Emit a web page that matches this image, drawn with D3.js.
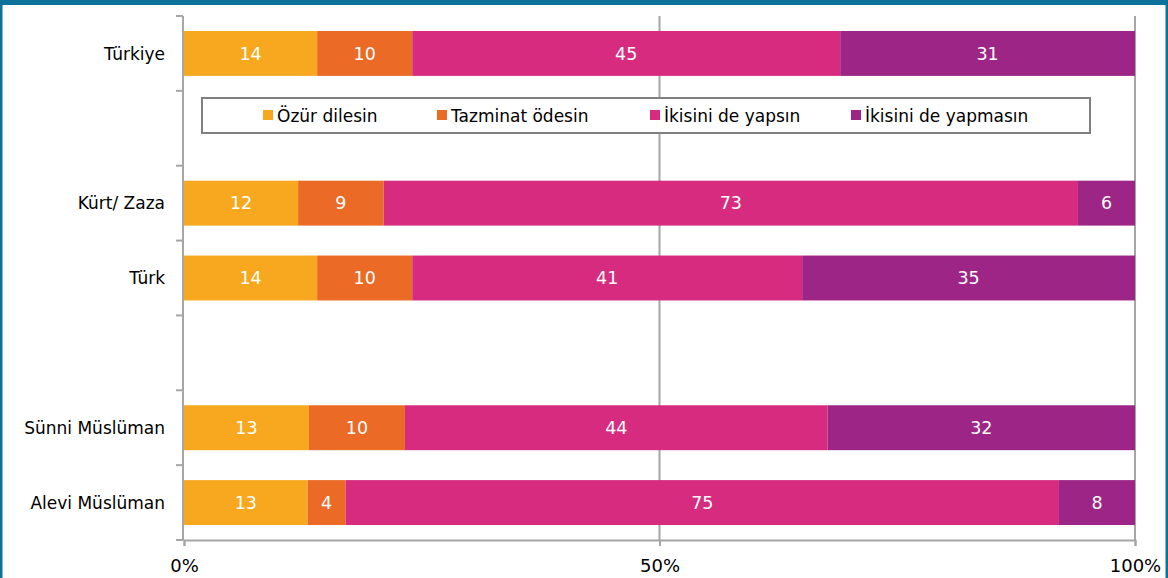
<!DOCTYPE html>
<html>
<head>
<meta charset="utf-8">
<title>Özür / Tazminat</title>
<style>
  body { margin: 0; background: #fff; }
  svg text { font-family: "DejaVu Sans", Verdana, sans-serif; }
</style>
</head>
<body>
<div id="container"></div>
<script src="https://cdn.jsdelivr.net/npm/d3@7/dist/d3.min.js"></script>
<script>
// rows of the chart, blanks keep the gaps between groups
const categories = ["Türkiye", "", "Kürt/ Zaza", "Türk", " ", "  ", "Sünni Müslüman", "Alevi Müslüman"];
const seriesNames = ["Özür dilesin", "Tazminat ödesin", "İkisini de yapsın", "İkisini de yapmasın"];
const colors = ["#f7a81f", "#eb6a26", "#d62b7e", "#9c2585"];
const ozur      = [14, null, 12, 14, null, null, 13, 13];
const tazminat  = [10, null, 9, 10, null, null, 10, 4];
const ikisiDe   = [45, null, 73, 41, null, null, 44, 75];
const hicbiri   = [31, null, 6, 35, null, null, 32, 8];
const xTicks = [0, 0.5, 1];

const W = 1168, H = 578;
const margin = {top: 16, left: 184, right: 33, bottom: 38};

const svg = d3.select("#container").append("svg")
  .attr("width", W).attr("height", H);

// frame
svg.append("rect").attr("x", 1).attr("y", 0).attr("width", W - 2).attr("height", H + 4)
  .attr("fill", "none").attr("stroke", "#0b7399").attr("stroke-width", 3);
svg.append("rect").attr("x", 0).attr("y", 0).attr("width", W).attr("height", 5).attr("fill", "#0b7399");

const rows = categories.map((c, i) => ({
  key: c,
  vals: [ozur[i], tazminat[i], ikisiDe[i], hicbiri[i]]
})).filter((r, i) => ozur[i] !== null);

// bands: 7 rows across the plot (one legend row + two empty)
const y = d3.scaleBand()
  .domain(categories.filter(c => c !== "  "))
  .range([margin.top, H - margin.bottom])
  .paddingInner(0.4).paddingOuter(0.2);
const x = d3.scaleLinear().domain([0, 1]).range([margin.left, W - margin.right]);

// gridlines
svg.append("g").selectAll("line").data(xTicks.slice(1))
  .join("line")
  .attr("x1", d => x(d)).attr("x2", d => x(d))
  .attr("y1", margin.top).attr("y2", H - margin.bottom)
  .attr("stroke", "#a6a6a6").attr("stroke-width", 2);

// stacked bars
const stackRows = rows.map(r => {
  const o = {key: r.key};
  seriesNames.forEach((s, j) => o[s] = r.vals[j]);
  return o;
});
const stacked = d3.stack().keys(seriesNames).offset(d3.stackOffsetExpand)(stackRows);

const layers = svg.append("g").selectAll("g").data(stacked)
  .join("g").attr("fill", (d, i) => colors[i]);
layers.selectAll("rect").data(d => d)
  .join("rect")
  .attr("x", d => x(d[0]))
  .attr("width", d => x(d[1]) - x(d[0]))
  .attr("y", d => y(d.data.key))
  .attr("height", y.bandwidth());

const labels = svg.append("g").attr("fill", "#fff").attr("font-size", 17.5)
  .attr("text-anchor", "middle");
stacked.forEach(layer => {
  labels.selectAll(null).data(layer).join("text")
    .attr("x", d => (x(d[0]) + x(d[1])) / 2)
    .attr("y", d => y(d.data.key) + y.bandwidth() / 2)
    .attr("dy", "0.36em")
    .text(d => d.data[layer.key]);
});

// y axis with ticks between rows
const yAxisG = svg.append("g").attr("transform", `translate(${margin.left - 1},0)`);
yAxisG.append("line").attr("y1", margin.top).attr("y2", H - margin.bottom)
  .attr("stroke", "#a6a6a6").attr("stroke-width", 2);
const step = (H - margin.bottom - margin.top) / 7;
yAxisG.selectAll(".tk").data(d3.range(8)).join("line")
  .attr("x1", -7).attr("x2", 0)
  .attr("y1", i => margin.top + i * step).attr("y2", i => margin.top + i * step)
  .attr("stroke", "#a6a6a6").attr("stroke-width", 2);
yAxisG.selectAll("text").data(rows).join("text")
  .attr("x", -18).attr("y", d => y(d.key) + y.bandwidth() / 2)
  .attr("dy", "0.36em").attr("text-anchor", "end")
  .attr("font-size", 17).attr("fill", "#000")
  .text(d => d.key);

// x axis
const xAxis = svg.append("g")
  .attr("transform", `translate(0,${H - margin.bottom})`)
  .call(d3.axisBottom(x).tickValues(xTicks).tickFormat(d3.format(".0%")).tickSize(6).tickPadding(13));
xAxis.select(".domain").attr("stroke", "#a6a6a6").attr("stroke-width", 2);
xAxis.selectAll(".tick line").attr("stroke", "#a6a6a6").attr("stroke-width", 2);
xAxis.selectAll(".tick text").attr("font-size", 18).attr("fill", "#000")
  .attr("font-family", "DejaVu Sans, sans-serif");

// legend box in the empty row
const legend = svg.append("g");
legend.append("rect").attr("x", 202).attr("y", 98).attr("width", 888).attr("height", 35)
  .attr("fill", "#fff").attr("stroke", "#808080").attr("stroke-width", 2);
const legendX = [263, 437, 650, 851];
seriesNames.forEach((s, i) => {
  legend.append("rect").attr("x", legendX[i]).attr("y", 110).attr("width", 10).attr("height", 10)
    .attr("fill", colors[i]);
  legend.append("text").attr("x", legendX[i] + 14).attr("y", 116).attr("dy", "0.36em")
    .attr("font-size", 17).attr("fill", "#000").text(s);
});
</script>
</body>
</html>
